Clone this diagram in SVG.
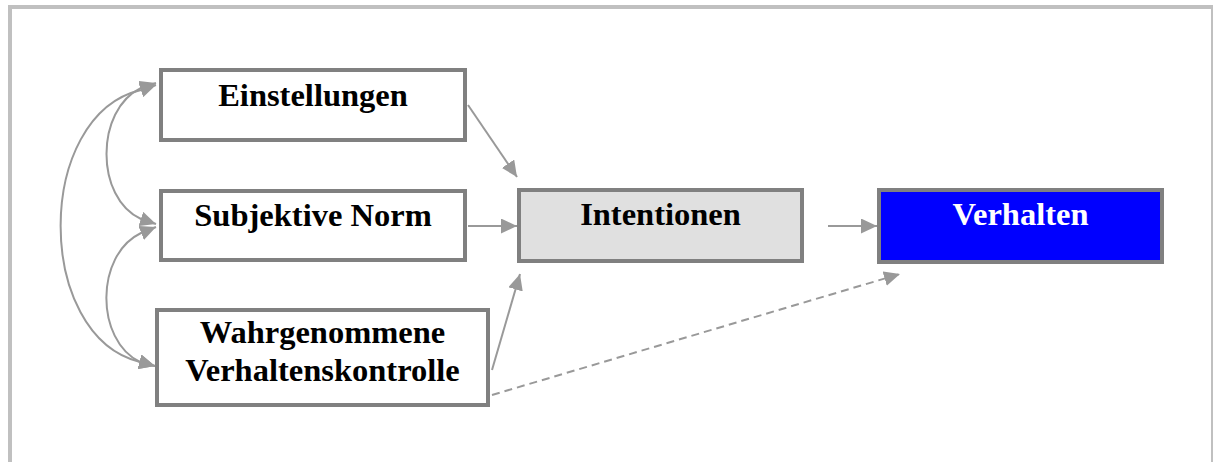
<svg xmlns="http://www.w3.org/2000/svg" width="1213" height="462" viewBox="0 0 1213 462">
<style>
.box{stroke:#808080;stroke-width:4;fill:#fff}
.lbl{font-family:"Liberation Serif","Times New Roman",serif;font-weight:bold;font-size:32.5px;text-anchor:middle;fill:#000}
.con{stroke:#999;stroke-width:2;fill:none}
</style>
<defs>
<marker id="ah" markerUnits="userSpaceOnUse" markerWidth="17" markerHeight="15" refX="16" refY="7.5" orient="auto-start-reverse">
<path d="M0,0 L16,7.5 L0,15 z" fill="#999"/>
</marker>
</defs>
<rect x="10" y="7" width="1203" height="500" fill="#fff" stroke="#c0c0c0" stroke-width="4"/>
<g id="einstellungen">
<rect class="box" x="161" y="70" width="304" height="70"/>
<text class="lbl" x="313" y="106">Einstellungen</text>
</g>
<g id="subjektive-norm">
<rect class="box" x="161" y="191" width="304" height="69"/>
<text class="lbl" x="313" y="226">Subjektive Norm</text>
</g>
<g id="wahrgenommene">
<rect class="box" x="157" y="310" width="331" height="95"/>
<text class="lbl" x="322.5" y="343">Wahrgenommene</text>
<text class="lbl" x="322.5" y="381">Verhaltenskontrolle</text>
</g>
<g id="intentionen">
<rect class="box" x="519" y="190" width="283" height="71" style="fill:#e0e0e0"/>
<text class="lbl" x="660.5" y="225">Intentionen</text>
</g>
<g id="verhalten">
<rect class="box" x="879" y="190" width="283" height="72" style="fill:#0000ff"/>
<text class="lbl" x="1020.5" y="225" style="fill:#fff">Verhalten</text>
</g>
<g id="connectors">
<path class="con" d="M156,83 L141,88 C95,110 95,198 141,219 L156,224" marker-start="url(#ah)" marker-end="url(#ah)"/>
<path class="con" d="M156,227 L141,233 C95,255 95,340 140,362 L155,366" marker-start="url(#ah)" marker-end="url(#ah)"/>
<path class="con" d="M156,85 L141,90 C34,115 34,336 140,362 L155,366" marker-start="url(#ah)" marker-end="url(#ah)"/>
<line class="con" x1="468" y1="105" x2="517" y2="177" marker-end="url(#ah)"/>
<line class="con" x1="468" y1="226" x2="517" y2="226" marker-end="url(#ah)"/>
<line class="con" x1="492" y1="370" x2="520" y2="274" marker-end="url(#ah)"/>
<line class="con" x1="828" y1="226" x2="877" y2="226" marker-end="url(#ah)"/>
<line class="con" x1="492" y1="395" x2="900" y2="274" stroke-dasharray="8,5" marker-end="url(#ah)"/>
</g>
</svg>
